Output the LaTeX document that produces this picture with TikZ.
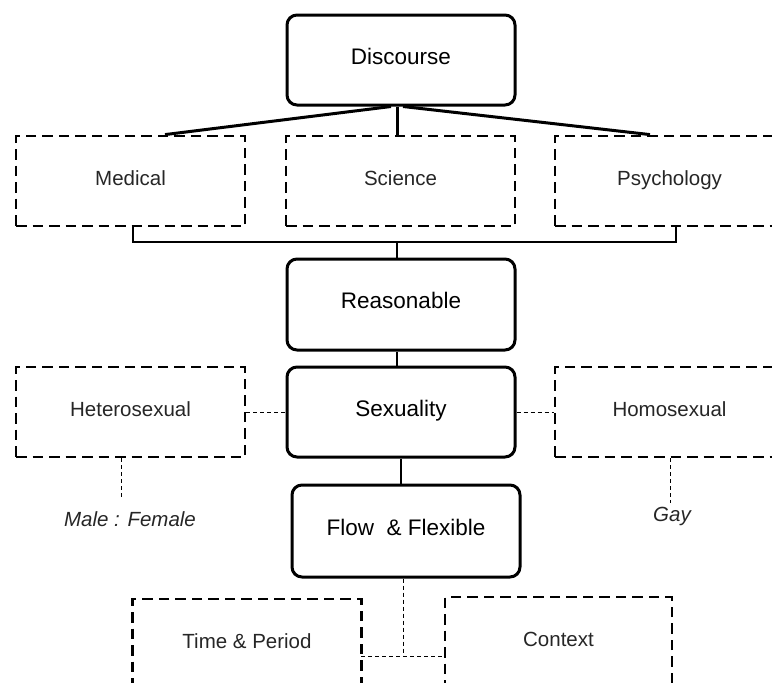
\documentclass[tikz,border=0pt]{standalone}
\usepackage{fontspec}
\setmainfont{Liberation Sans}
\usetikzlibrary{calc}
\tikzset{
  mainbox/.style={draw=black, line width=3pt, rounded corners=10pt, minimum width=228pt, minimum height=90pt, inner sep=0pt, font=\fontsize{22.5}{26}\selectfont, text=black, text height=16pt, text depth=8pt},
  sidebox/.style={draw=black, line width=2.8pt, dash pattern=on 10.5pt off 6pt, minimum width=229pt, minimum height=90pt, inner sep=0pt, font=\fontsize{20.5}{24}\selectfont, text=black!85, text height=15pt, text depth=6.4pt},
  thickline/.style={line width=3pt},
  thinline/.style={line width=1.2pt},
  dotline/.style={line width=1pt, dash pattern=on 4pt off 3pt},
  ital/.style={font=\fontsize{20.5}{24}\selectfont\itshape, text=black!85, inner sep=0pt}
}
\begin{document}
\begin{tikzpicture}[x=1pt,y=-1pt]
\useasboundingbox (0,0) rectangle (772,683);
\clip (0,0) rectangle (772,683);
% nodes
\node[mainbox] (disc) at (401,60) {Discourse};
\node[sidebox] (med) at (130.5,181) {Medical};
\node[sidebox] (sci) at (400.5,181) {Science};
\node[sidebox] (psy) at (669.5,181) {Psychology};
\node[mainbox, minimum height=91pt] (reas) at (401,304.5) {Reasonable};
\node[mainbox] (sex) at (401,412) {Sexuality};
\node[sidebox] (het) at (130.5,412) {Heterosexual};
\node[sidebox] (hom) at (669.5,412) {Homosexual};
\node[mainbox, minimum height=92pt] (flow) at (406,531) {Flow\ \ \&\ Flexible};
\node[sidebox] (time) at (247,644) {Time \& Period};
\node[sidebox, minimum width=227pt] (ctx) at (558.5,642) {Context};
\node[ital] (mf) at (130,519) {Male : Female};
\node[ital] (gay) at (672,516) {Gay};
% coordinates
\coordinate (bl) at (133,242);
\coordinate (br) at (676,242);
\coordinate (bm) at (397,242);
\coordinate (mfe) at (121,500);
\coordinate (gaye) at (670,503);
\coordinate (fd) at (403,656);
\coordinate (tl) at (361,656);
\coordinate (cr) at (445,656);
% discourse fan
\draw[thickline] ($(disc.south)+(-10,0)$) -- ($(med.north)+(34.5,0)$);
\draw[thickline] ($(disc.south)+(-4,0)$) -- ($(sci.north)+(-3.5,0)$);
\draw[thickline] ($(disc.south)+(2,0)$) -- ($(psy.north)+(-19.5,0)$);
% bracket
\draw[thinline] (med.south -| bl) -- (bl) -- (br) -- (psy.south -| br);
\draw[thinline] (bm) -- (reas.north -| bm);
\draw[thinline] (reas.south -| bm) -- (sex.north -| bm);
\draw[thinline] (sex.south) -- (flow.north -| sex.south);
% side connectors
\draw[dotline] (het.east) -- (sex.west);
\draw[dotline] (sex.east) -- (hom.west);
\draw[dotline] (het.south -| mfe) -- (mfe);
\draw[dotline] (hom.south -| gaye) -- (gaye);
\draw[dotline] (flow.south -| fd) -- (fd);
\draw[dotline] (tl) -- (cr);
\end{tikzpicture}
\end{document}
